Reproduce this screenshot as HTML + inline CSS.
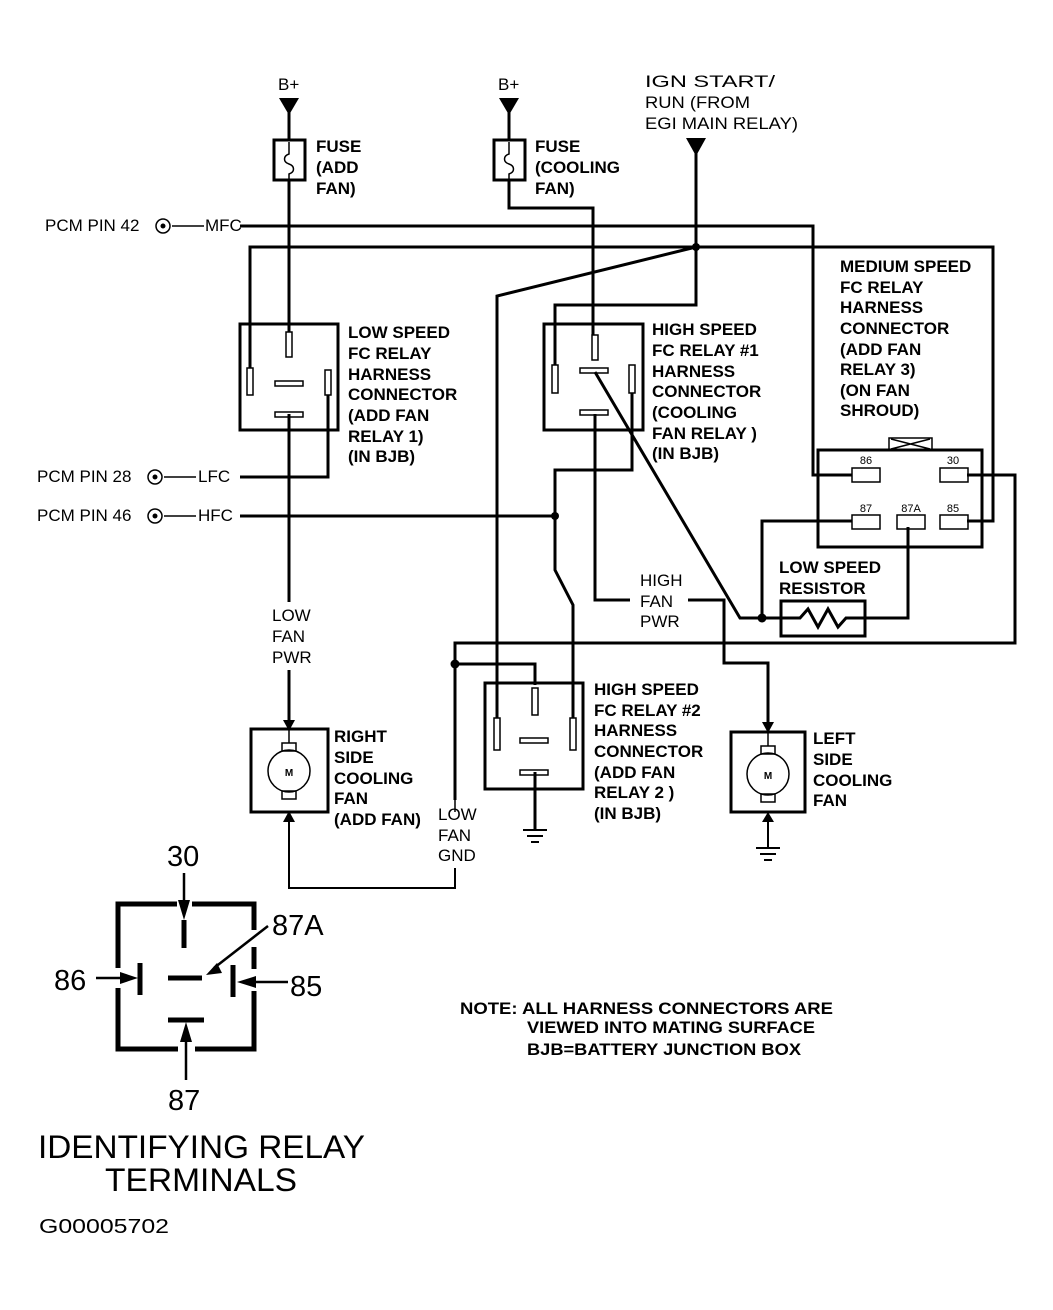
<!DOCTYPE html>
<html><head><meta charset="utf-8"><style>
html,body{margin:0;padding:0;background:#fff}
svg{display:block}
text{font-family:"Liberation Sans",sans-serif;fill:#000}
.b{font-weight:bold;font-size:17px}
.n{font-size:17px}
</style></head><body>
<svg width="1053" height="1310" viewBox="0 0 1053 1310" xmlns="http://www.w3.org/2000/svg">
<g fill="none" stroke="#000" stroke-width="3">
<line x1="289" y1="100" x2="289" y2="140"/>
<rect x="274" y="140" width="31" height="40"/>
<line x1="289" y1="180" x2="289" y2="332"/>
<line x1="509" y1="100" x2="509" y2="140"/>
<rect x="494" y="140" width="31" height="40"/>
<polyline points="509,180 509,208 593,208 593,335"/>
<polyline points="696,150 696,305 555,305 555,365"/>
<polyline points="240,226 813,226 813,475 852,475"/>
<polyline points="250,368 250,247 993,247 993,521 967,521"/>
<polyline points="696,247 497,296 497,718"/>
<rect x="240" y="324" width="98" height="106"/>
<polyline points="240,477 328,477 328,395"/>
<line x1="240" y1="516" x2="555" y2="516"/>
<polyline points="289,414 289,602"/>
<line x1="289" y1="670" x2="289" y2="725"/>
<rect x="544" y="324" width="99" height="106"/>
<polyline points="632,393 632,470 555,470 555,570 573,605 573,718"/>
<polyline points="595,414 595,600 630,600"/>
<polyline points="688,600 724,600 724,663 768,663 768,728"/>
<polyline points="595,372 740,618 780,618"/>
<polyline points="762,618 762,521 852,521"/>
<rect x="781" y="601" width="84" height="35"/>
<polyline points="781,618 800,618 808,609 818,627 828,609 838,627 846,618 865,618 908,618 908,527"/>
<rect x="818" y="450" width="164" height="97"/>
<polyline points="967,475 1015,475 1015,643 455,643 455,800"/>
<polyline points="455,664 535,664 535,685"/>
<rect x="485" y="683" width="98" height="106"/>
<polyline points="535,772 535,830"/>
<polyline points="455,868 455,888 289,888 289,818" stroke-width="2"/>
<rect x="251" y="729" width="77" height="83"/>
<rect x="731" y="732" width="74" height="80"/>
<line x1="768" y1="812" x2="768" y2="848" stroke-width="2"/>
</g>
<g fill="none" stroke="#000" stroke-width="1.5">
<path d="M289,142 v12 c-6,2 -6,8 0,10 c6,2 6,8 0,10 v6"/>
<path d="M509,142 v12 c-6,2 -6,8 0,10 c6,2 6,8 0,10 v6"/>
<rect x="286" y="332" width="6" height="25"/>
<rect x="247" y="368" width="6" height="27"/>
<rect x="325" y="370" width="6" height="25"/>
<rect x="275" y="381" width="28" height="5"/>
<rect x="275" y="412" width="28" height="5"/>
<rect x="592" y="335" width="6" height="25"/>
<rect x="552" y="365" width="6" height="28"/>
<rect x="629" y="365" width="6" height="28"/>
<rect x="580" y="368" width="28" height="5"/>
<rect x="580" y="410" width="28" height="5"/>
<rect x="532" y="688" width="6" height="27"/>
<rect x="494" y="718" width="6" height="32"/>
<rect x="570" y="718" width="6" height="32"/>
<rect x="520" y="738" width="28" height="5"/>
<rect x="520" y="770" width="28" height="5"/>
<rect x="852" y="468" width="28" height="14"/>
<rect x="940" y="468" width="28" height="14"/>
<rect x="852" y="515" width="28" height="14"/>
<rect x="897" y="515" width="28" height="14"/>
<rect x="940" y="515" width="28" height="14"/>
<rect x="889" y="438" width="43" height="12"/>
<path d="M891,439 L930,449 M891,449 L930,439"/>
<line x1="172" y1="226" x2="204" y2="226"/>
<line x1="164" y1="477" x2="196" y2="477"/>
<line x1="164" y1="516" x2="196" y2="516"/>
<line x1="455" y1="800" x2="455" y2="812"/>
<circle cx="289" cy="771" r="21"/>
<rect x="282" y="743" width="14" height="8"/>
<rect x="282" y="791" width="14" height="8"/>
<line x1="289" y1="729" x2="289" y2="743"/>
<circle cx="768" cy="774" r="21"/>
<rect x="761" y="746" width="14" height="8"/>
<rect x="761" y="794" width="14" height="8"/>
<line x1="768" y1="732" x2="768" y2="746"/>
<circle cx="163" cy="226" r="7"/>
<circle cx="155" cy="477" r="7"/>
<circle cx="155" cy="516" r="7"/>
</g>
<g fill="#000">
<circle cx="163" cy="226" r="2.5"/><circle cx="155" cy="477" r="2.5"/><circle cx="155" cy="516" r="2.5"/>
<polygon points="279,98 299,98 289,115"/>
<polygon points="499,98 519,98 509,115"/>
<polygon points="686,138 706,138 696,156"/>
<circle cx="696" cy="247" r="4"/>
<circle cx="555" cy="516" r="4"/>
<circle cx="762" cy="618" r="4.5"/>
<circle cx="455" cy="664" r="4.5"/>
<polygon points="283,720 295,720 289,731"/>
<polygon points="762,722 774,722 768,733"/>
<polygon points="283,822 295,822 289,811"/>
<polygon points="762,822 774,822 768,812"/>
<text x="866" y="464" font-size="11" text-anchor="middle">86</text>
<text x="953" y="464" font-size="11" text-anchor="middle">30</text>
<text x="866" y="512" font-size="11" text-anchor="middle">87</text>
<text x="911" y="512" font-size="11" text-anchor="middle">87A</text>
<text x="953" y="512" font-size="11" text-anchor="middle">85</text>
<text x="289" y="776" font-size="10" font-weight="bold" text-anchor="middle">M</text>
<text x="768" y="779" font-size="10" font-weight="bold" text-anchor="middle">M</text>
</g>
<g stroke="#000" stroke-width="2">
<line x1="523" y1="830" x2="547" y2="830"/><line x1="527" y1="836" x2="543" y2="836"/><line x1="531" y1="842" x2="539" y2="842"/>
<line x1="756" y1="848" x2="780" y2="848"/><line x1="760" y1="854" x2="776" y2="854"/><line x1="764" y1="860" x2="772" y2="860"/>
</g>
<text class="n" x="278" y="90">B+</text>
<text class="n" x="498" y="90">B+</text>
<text class="n" x="645" y="87" textLength="130" lengthAdjust="spacingAndGlyphs">IGN START/</text>
<text class="n" x="645" y="108" textLength="105" lengthAdjust="spacingAndGlyphs">RUN (FROM</text>
<text class="n" x="645" y="129" textLength="153" lengthAdjust="spacingAndGlyphs">EGI MAIN RELAY)</text>
<text class="b" x="316" y="152">FUSE</text><text class="b" x="316" y="173">(ADD</text><text class="b" x="316" y="194">FAN)</text>
<text class="b" x="535" y="152">FUSE</text><text class="b" x="535" y="173">(COOLING</text><text class="b" x="535" y="194">FAN)</text>
<text class="n" x="45" y="231">PCM PIN 42</text><text class="n" x="205" y="231">MFC</text>
<text class="n" x="37" y="482">PCM PIN 28</text><text class="n" x="198" y="482">LFC</text>
<text class="n" x="37" y="521">PCM PIN 46</text><text class="n" x="198" y="521">HFC</text>
<text class="b" x="348" y="338">LOW SPEED</text><text class="b" x="348" y="359">FC RELAY</text><text class="b" x="348" y="380">HARNESS</text><text class="b" x="348" y="400">CONNECTOR</text><text class="b" x="348" y="421">(ADD FAN</text><text class="b" x="348" y="442">RELAY  1)</text><text class="b" x="348" y="462">(IN BJB)</text>
<text class="b" x="652" y="335">HIGH SPEED</text><text class="b" x="652" y="356">FC RELAY #1</text><text class="b" x="652" y="377">HARNESS</text><text class="b" x="652" y="397">CONNECTOR</text><text class="b" x="652" y="418">(COOLING</text><text class="b" x="652" y="439">FAN RELAY )</text><text class="b" x="652" y="459">(IN BJB)</text>
<text class="b" x="840" y="272">MEDIUM SPEED</text><text class="b" x="840" y="293">FC RELAY</text><text class="b" x="840" y="313">HARNESS</text><text class="b" x="840" y="334">CONNECTOR</text><text class="b" x="840" y="355">(ADD FAN</text><text class="b" x="840" y="375">RELAY 3)</text><text class="b" x="840" y="396">(ON FAN</text><text class="b" x="840" y="416">SHROUD)</text>
<text class="b" x="779" y="573">LOW SPEED</text><text class="b" x="779" y="594">RESISTOR</text>
<text class="b" x="594" y="695">HIGH SPEED</text><text class="b" x="594" y="716">FC RELAY #2</text><text class="b" x="594" y="736">HARNESS</text><text class="b" x="594" y="757">CONNECTOR</text><text class="b" x="594" y="778">(ADD FAN</text><text class="b" x="594" y="798">RELAY 2 )</text><text class="b" x="594" y="819">(IN BJB)</text>
<text class="b" x="334" y="742">RIGHT</text><text class="b" x="334" y="763">SIDE</text><text class="b" x="334" y="784">COOLING</text><text class="b" x="334" y="804">FAN</text><text class="b" x="334" y="825">(ADD FAN)</text>
<text class="b" x="813" y="744">LEFT</text><text class="b" x="813" y="765">SIDE</text><text class="b" x="813" y="786">COOLING</text><text class="b" x="813" y="806">FAN</text>
<text class="b" x="460" y="1014" textLength="373" lengthAdjust="spacingAndGlyphs">NOTE:  ALL HARNESS CONNECTORS ARE</text>
<text class="b" x="527" y="1033" textLength="288" lengthAdjust="spacingAndGlyphs">VIEWED INTO MATING SURFACE</text>
<text class="b" x="527" y="1055" textLength="274" lengthAdjust="spacingAndGlyphs">BJB=BATTERY JUNCTION BOX</text>
<text class="n" x="272" y="621">LOW</text><text class="n" x="272" y="642">FAN</text><text class="n" x="272" y="663">PWR</text>
<text class="n" x="640" y="586">HIGH</text><text class="n" x="640" y="607">FAN</text><text class="n" x="640" y="627">PWR</text>
<text class="n" x="438" y="820">LOW</text><text class="n" x="438" y="841">FAN</text><text class="n" x="438" y="861">GND</text>
<g fill="none" stroke="#000" stroke-width="5">
<polyline points="177,904 118,904 118,968"/>
<polyline points="192,904 254,904 254,930"/>
<line x1="254" y1="947" x2="254" y2="969"/>
<polyline points="254,991 254,1049 195,1049"/>
<polyline points="178,1049 118,1049 118,988"/>
<line x1="184" y1="920" x2="184" y2="948"/>
<line x1="140" y1="963" x2="140" y2="995"/>
<line x1="233" y1="965" x2="233" y2="997"/>
<line x1="168" y1="978" x2="202" y2="978"/>
<line x1="168" y1="1020" x2="204" y2="1020"/>
</g>
<g stroke="#000" stroke-width="2.5" fill="none">
<line x1="184" y1="873" x2="184" y2="905"/>
<line x1="96" y1="978" x2="125" y2="978"/>
<line x1="288" y1="982" x2="250" y2="982"/>
<line x1="268" y1="926" x2="214" y2="968"/>
<line x1="186" y1="1080" x2="186" y2="1035"/>
</g>
<g fill="#000">
<polygon points="178,900 190,900 184,920"/>
<polygon points="120,972 120,984 138,978"/>
<polygon points="256,976 256,988 237,982"/>
<polygon points="206,975 217,963 222,973"/>
<polygon points="180,1042 192,1042 186,1022"/>
</g>
<text x="167" y="866" font-size="29">30</text>
<text x="54" y="990" font-size="29">86</text>
<text x="290" y="996" font-size="29">85</text>
<text x="272" y="935" font-size="29">87A</text>
<text x="168" y="1110" font-size="29">87</text>
<text x="38" y="1158" font-size="32" textLength="327" lengthAdjust="spacingAndGlyphs">IDENTIFYING RELAY</text>
<text x="105" y="1191" font-size="32" textLength="192" lengthAdjust="spacingAndGlyphs">TERMINALS</text>
<text x="39" y="1233" font-size="20" textLength="130" lengthAdjust="spacingAndGlyphs">G00005702</text>
</svg>
</body></html>
